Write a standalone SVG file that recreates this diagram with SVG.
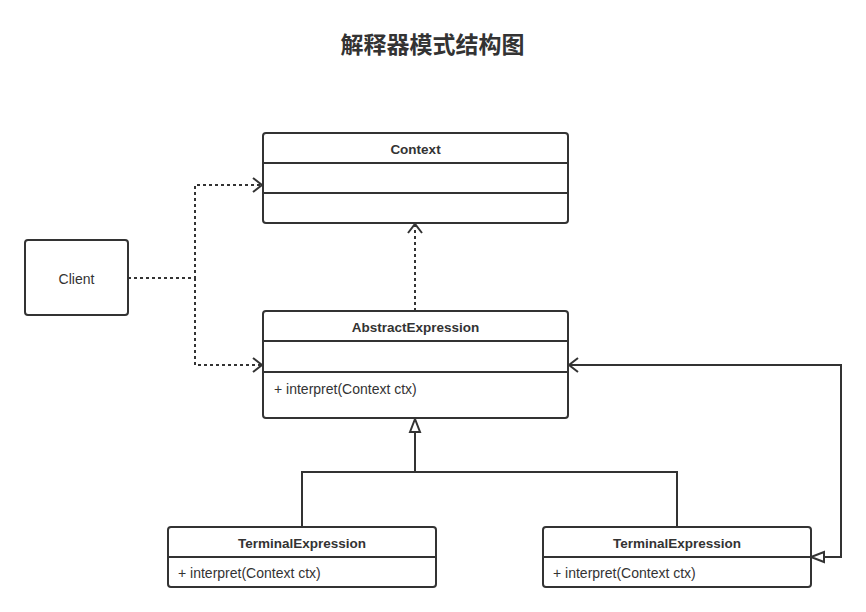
<svg xmlns="http://www.w3.org/2000/svg" width="866" height="612" viewBox="0 0 866 612">
<style>
.box{fill:#fff;stroke:#333;stroke-width:2}
.div{stroke:#333;stroke-width:2}
.t{font-family:"Liberation Sans",Arial,sans-serif;font-size:14px;fill:#333}
.b{font-size:13.5px;font-weight:bold;text-anchor:middle}
.c{fill:none;stroke:#333;stroke-width:2}
.d{stroke-dasharray:3 3}
.title{font-family:"Noto Sans CJK SC",sans-serif;font-size:23px;font-weight:bold;fill:#333;text-anchor:middle}
</style>
<defs>
<marker id="open" viewBox="0 0 11 16" refX="10" refY="8" markerWidth="11" markerHeight="16" markerUnits="userSpaceOnUse" orient="auto" overflow="visible">
<path d="M1,1 L10,8 L1,15" fill="none" stroke="#333" stroke-width="2"/>
</marker>
<marker id="tri" viewBox="0 0 15 12" refX="14" refY="6" markerWidth="15" markerHeight="12" markerUnits="userSpaceOnUse" orient="auto-start-reverse" overflow="visible">
<path d="M1,1 L14,6 L1,11 Z" fill="#fff" stroke="#333" stroke-width="2"/>
</marker>
</defs>
<rect width="866" height="612" fill="#fff"/>
<text class="title" x="432.5" y="53">解释器模式结构图</text>

<g id="connectors">
<path class="c d" d="M128,278 H195 V185 H262" marker-end="url(#open)"/>
<path class="c d" d="M195,278 V365 H262" marker-end="url(#open)"/>
<path class="c d" d="M415,311 V224" marker-end="url(#open)"/>
<path class="c" d="M302,527 V472 H677 V527"/>
<path class="c" d="M415,472 V419" marker-end="url(#tri)"/>
<path class="c" d="M811,557 H841 V365 H569" marker-start="url(#tri)" marker-end="url(#open)"/>
</g>

<g id="client">
<rect class="box" x="25" y="240" width="103" height="75" rx="3"/>
<text class="t" x="76.5" y="284" text-anchor="middle">Client</text>
</g>

<g id="context">
<rect class="box" x="263" y="133" width="305" height="90" rx="3"/>
<line class="div" x1="263" y1="163" x2="568" y2="163"/>
<line class="div" x1="263" y1="193" x2="568" y2="193"/>
<text class="t b" x="415.5" y="154">Context</text>
</g>

<g id="abstract">
<rect class="box" x="263" y="311" width="305" height="107" rx="3"/>
<line class="div" x1="263" y1="341" x2="568" y2="341"/>
<line class="div" x1="263" y1="372" x2="568" y2="372"/>
<text class="t b" x="415.5" y="332">AbstractExpression</text>
<text class="t" x="274" y="394">+ interpret(Context ctx)</text>
</g>

<g id="terminal1">
<rect class="box" x="168" y="527" width="268" height="60" rx="3"/>
<line class="div" x1="168" y1="557" x2="436" y2="557"/>
<text class="t b" x="302" y="548">TerminalExpression</text>
<text class="t" x="178" y="578">+ interpret(Context ctx)</text>
</g>

<g id="terminal2">
<rect class="box" x="543" y="527" width="268" height="60" rx="3"/>
<line class="div" x1="543" y1="557" x2="811" y2="557"/>
<text class="t b" x="677" y="548">TerminalExpression</text>
<text class="t" x="553" y="578">+ interpret(Context ctx)</text>
</g>
</svg>
